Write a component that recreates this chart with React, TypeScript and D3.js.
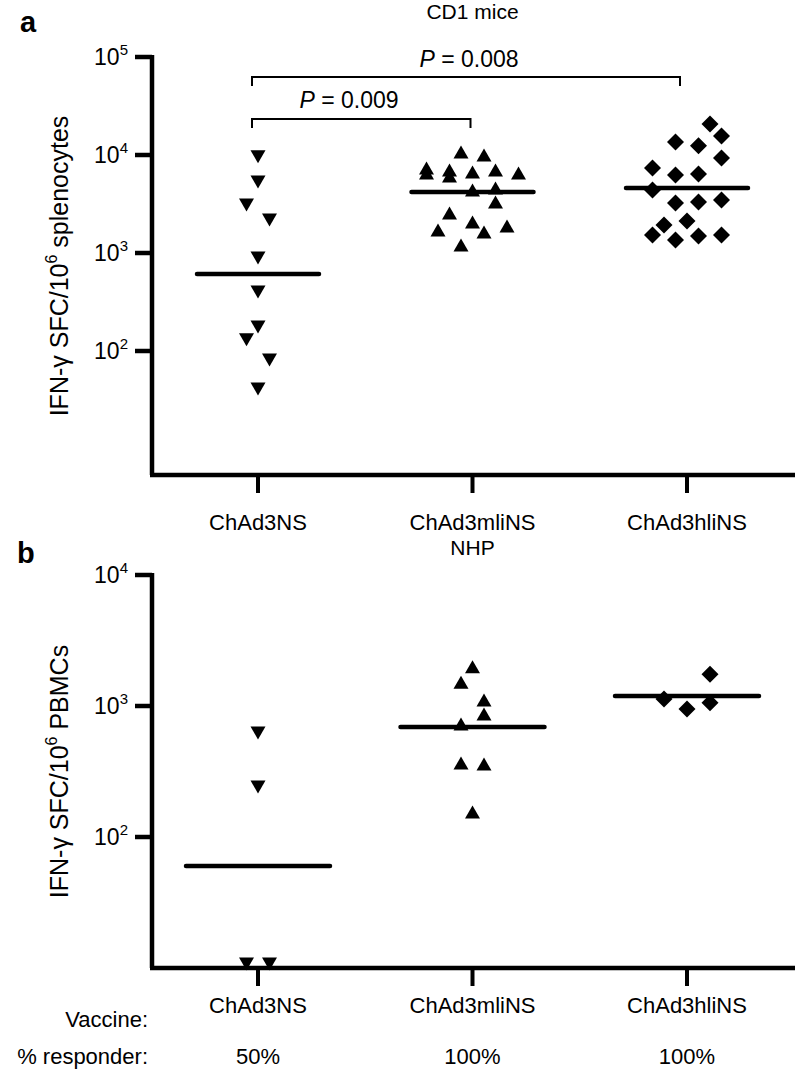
import React from "react";
import * as d3 from "d3";

const groups = ["ChAd3NS", "ChAd3mliNS", "ChAd3hliNS"];
const responders = ["50%", "100%", "100%"];

// [value, jitter column]
const miceNS: [number, number][] = [[9600,0],[5300,0],[3090,-1],[2170,1],[890,0],[400,0],[176,0],[130,-1],[81,1],[41,0]];
const miceMli: [number, number][] = [[10700,-1],[10000,1],[7360,-4],[6550,-4],[7030,-2],[6110,-2],[6710,0],[7030,2],[6550,4],[4400,0],[4600,2],[3310,2],[2560,-2],[2070,0],[1720,-3],[1640,1],[1890,3],[1210,-1]];
const miceHli: [number, number][] = [[20700,2],[13600,-1],[12400,1],[15600,3],[9310,3],[7360,-3],[6250,-1],[6400,1],[4400,-3],[3240,-1],[3310,1],[3470,3],[1930,-2],[2120,0],[1530,-3],[1360,-1],[1490,1],[1530,3]];
const miceMedians = [611, 4190, 4600];

const nhpNS: [number, number][] = [[622,0],[241,0],[10,-1],[10,1]];
const nhpMli: [number, number][] = [[1990,0],[1520,-1],[1110,1],[869,1],[730,-1],[367,-1],[360,1],[155,0]];
const nhpHli: [number, number][] = [[1750,2],[1130,-2],[950,0],[1060,2]];
const nhpMedians = [60, 692, 1190];

const miceTicks = [1e5, 1e4, 1e3, 1e2];
const miceExp = ["5", "4", "3", "2"];
const nhpTicks = [1e4, 1e3, 1e2];
const nhpExp = ["4", "3", "2"];

const FONT = "'Liberation Sans', Arial, Helvetica, sans-serif";
const W = 798, H = 1074;

const x = d3.scalePoint<string>().domain(groups).range([258, 687]);
const jit = d3.scaleLinear().domain([0, 1]).range([0, 11.5]);
const yA = d3.scaleLog().domain([10, 1e5]).range([449, 57]);
const yB = d3.scaleLog().domain([10, 1e4]).range([968, 575]);

const AX = 152;
const AXR = 795;
const yAxisA = 475;

const triDown = "M-7.5,-6.5L7.5,-6.5L0,6.5Z";
const triUp = "M0,-6.5L7.5,6.5L-7.5,6.5Z";
const diamond = "M0,-8.5L8.5,0L0,8.5L-8.5,0Z";
const shapes = [triDown, triUp, diamond];

function Points({ data, gi, y }: { data: [number, number][]; gi: number; y: any }) {
  return (
    <g>
      {data.map(([v, j], i) => (
        <path key={i} d={shapes[gi]} transform={`translate(${x(groups[gi])! + jit(j)},${y(v)})`} fill="#000" />
      ))}
    </g>
  );
}

function YTicks({ ticks, exps, y }: { ticks: number[]; exps: string[]; y: any }) {
  return (
    <g>
      {ticks.map((t, i) => (
        <g key={i}>
          <line x1={AX - 17} x2={AX} y1={y(t)} y2={y(t)} stroke="#000" strokeWidth={4.5} />
          <text x={AX - 24} y={y(t) + 8} textAnchor="end" fontFamily={FONT} fontSize={23}>
            10<tspan fontSize={15} dy={-10}>{exps[i]}</tspan>
          </text>
        </g>
      ))}
    </g>
  );
}

function XTicks({ yAxis, labelY }: { yAxis: number; labelY: number }) {
  return (
    <g>
      {groups.map((g) => (
        <g key={g}>
          <line x1={x(g)} x2={x(g)} y1={yAxis} y2={yAxis + 18} stroke="#000" strokeWidth={4} />
          <text x={x(g)} y={labelY} textAnchor="middle" fontFamily={FONT} fontSize={22}>{g}</text>
        </g>
      ))}
    </g>
  );
}

function Medians({ meds, y, half }: { meds: number[]; y: any; half: number }) {
  return (
    <g>
      {meds.map((m, i) => (
        <line key={i} x1={x(groups[i])! - half} x2={x(groups[i])! + half} y1={y(m)} y2={y(m)} stroke="#000" strokeWidth={4.5} strokeLinecap="round" />
      ))}
    </g>
  );
}

export default function App() {
  const b1y = 119, b2y = 77;
  const gx0 = x(groups[0])! - 6;
  return (
    <svg width={W} height={H} style={{ position: "absolute", left: 0, top: 0, background: "#fff" }}>
      <rect width={W} height={H} fill="#fff" />
      {/* Panel a */}
      <text x={20} y={32} fontFamily={FONT} fontSize={29} fontWeight="bold">a</text>
      <text x={x(groups[1])} y={19} textAnchor="middle" fontFamily={FONT} fontSize={21}>CD1 mice</text>
      <text transform={`translate(68,${(57 + yAxisA) / 2}) rotate(-90)`} textAnchor="middle" fontFamily={FONT} fontSize={25}>
        IFN-γ SFC/10<tspan fontSize={16} dy={-11}>6</tspan><tspan dy={11}> splenocytes</tspan>
      </text>
      <line x1={AX} x2={AX} y1={yA(1e5) - 2} y2={yAxisA} stroke="#000" strokeWidth={4.5} />
      <line x1={AX - 2} x2={AXR} y1={yAxisA} y2={yAxisA} stroke="#000" strokeWidth={4.5} />
      <YTicks ticks={miceTicks} exps={miceExp} y={yA} />
      <XTicks yAxis={yAxisA} labelY={530} />
      {/* brackets */}
      <path d={`M${gx0},${b1y + 9}V${b1y}H${x(groups[1])! - 2}V${b1y + 9}`} fill="none" stroke="#000" strokeWidth={2} />
      <path d={`M${gx0},${b2y + 9}V${b2y}H${x(groups[2])! - 7}V${b2y + 9}`} fill="none" stroke="#000" strokeWidth={2} />
      <text x={349} y={108} textAnchor="middle" fontFamily={FONT} fontSize={23}>
        <tspan fontStyle="italic">P</tspan> = 0.009
      </text>
      <text x={469} y={67} textAnchor="middle" fontFamily={FONT} fontSize={23}>
        <tspan fontStyle="italic">P</tspan> = 0.008
      </text>
      <Points data={miceNS} gi={0} y={yA} />
      <Points data={miceMli} gi={1} y={yA} />
      <Points data={miceHli} gi={2} y={yA} />
      <Medians meds={miceMedians} y={yA} half={61} />

      {/* Panel b */}
      <text x={17} y={563} fontFamily={FONT} fontSize={29} fontWeight="bold">b</text>
      <text x={x(groups[1])} y={555} textAnchor="middle" fontFamily={FONT} fontSize={21}>NHP</text>
      <text transform={`translate(68,${(yB(1e4) + yB(10)) / 2}) rotate(-90)`} textAnchor="middle" fontFamily={FONT} fontSize={25}>
        IFN-γ SFC/10<tspan fontSize={16} dy={-11}>6</tspan><tspan dy={11}> PBMCs</tspan>
      </text>
      <line x1={AX} x2={AX} y1={yB(1e4) - 2} y2={yB(10)} stroke="#000" strokeWidth={4.5} />
      <line x1={AX - 2} x2={AXR} y1={yB(10)} y2={yB(10)} stroke="#000" strokeWidth={4.5} />
      <YTicks ticks={nhpTicks} exps={nhpExp} y={yB} />
      <Medians meds={nhpMedians} y={yB} half={72} />
      <Points data={nhpNS} gi={0} y={(v: number) => (v <= 10 ? yB(10) - 4 : yB(v))} />
      <Points data={nhpMli} gi={1} y={yB} />
      <Points data={nhpHli} gi={2} y={yB} />
      <XTicks yAxis={yB(10)} labelY={1013} />
      <text x={148} y={1027} textAnchor="end" fontFamily={FONT} fontSize={22}>Vaccine:</text>
      <text x={148} y={1064} textAnchor="end" fontFamily={FONT} fontSize={22}>% responder:</text>
      {responders.map((r, i) => (
        <text key={i} x={x(groups[i])} y={1064} textAnchor="middle" fontFamily={FONT} fontSize={22}>{r}</text>
      ))}
    </svg>
  );
}
